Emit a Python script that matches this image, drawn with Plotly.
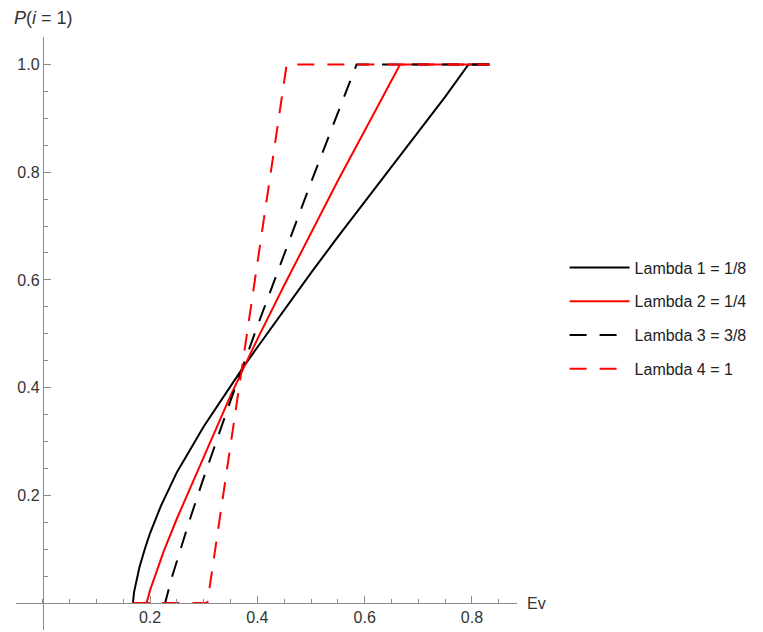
import plotly.graph_objects as go

# Ev values and P(i = 1) for each Lambda setting (values clipped to [0, 1])
ev_l1 = [0.167, 0.168, 0.170, 0.175, 0.18, 0.19, 0.20, 0.22, 0.25, 0.30, 0.35, 0.375, 0.40, 0.45,
         0.50, 0.55, 0.60, 0.65, 0.70, 0.75, 0.7935, 0.833]
p_l1 = [0.0, 0.0, 0.020, 0.045, 0.066, 0.100, 0.130, 0.180, 0.243, 0.328, 0.404, 0.440, 0.475, 0.545,
        0.613, 0.680, 0.746, 0.810, 0.875, 0.940, 1.0, 1.0]

ev_l2 = [0.167, 0.1934, 0.20, 0.21, 0.225, 0.25, 0.30, 0.35, 0.375, 0.40, 0.45, 0.50, 0.55, 0.60, 0.666, 0.833]
p_l2 = [0.0, 0.0, 0.024, 0.054, 0.095, 0.157, 0.272, 0.385, 0.438, 0.490, 0.590, 0.688, 0.784, 0.877, 1.0, 1.0]

ev_l3 = [0.167, 0.228, 0.24, 0.25, 0.275, 0.30, 0.35, 0.40, 0.45, 0.50, 0.55, 0.585, 0.833]
p_l3 = [0.0, 0.0, 0.046, 0.079, 0.158, 0.233, 0.376, 0.514, 0.649, 0.781, 0.910, 1.0, 1.0]

ev_l4 = [0.167, 0.3066, 0.4546, 0.833]
p_l4 = [0.0, 0.0, 1.0, 1.0]

names = ["Lambda 1 = 1/8", "Lambda 2 = 1/4", "Lambda 3 = 3/8", "Lambda 4 = 1"]

x_ticks = [0.2, 0.4, 0.6, 0.8]
x_tick_text = ["0.2", "0.4", "0.6", "0.8"]
y_ticks = [0.2, 0.4, 0.6, 0.8, 1.0]
y_tick_text = ["0.2", "0.4", "0.6", "0.8", "1.0"]

x_range = [-0.05, 0.884]
y_range = [-0.05, 1.051]

FONT = "Liberation Sans, Arial, sans-serif"
AXIS = "#8a8a8a"
DASH = "17px,13px"

fig = go.Figure()
series = [
    (ev_l1, p_l1, "black", "solid"),
    (ev_l2, p_l2, "#ff0000", "solid"),
    (ev_l3, p_l3, "black", DASH),
    (ev_l4, p_l4, "#ff0000", DASH),
]
for i, ((xs, ys, color, dash), name) in enumerate(zip(series, names)):
    fig.add_trace(go.Scatter(
        x=xs, y=ys, mode="lines", name=name, legendgroup=f"g{i}",
        line=dict(color=color, width=2, dash=dash),
        cliponaxis=False,
    ))

# axes cross at the origin, as free-positioned axes
x_pos = (0 - y_range[0]) / (y_range[1] - y_range[0])
y_pos = (0 - x_range[0]) / (x_range[1] - x_range[0])

fig.update_layout(
    width=763, height=632,
    margin=dict(l=16, r=246, t=37, b=2),
    paper_bgcolor="white", plot_bgcolor="white",
    font=dict(family=FONT, size=16, color="#333333"),
    showlegend=True,
    legend=dict(
        x=1.095, y=0.64, xanchor="left", yanchor="top",
        font=dict(family=FONT, size=16, color="#222222"),
        tracegroupgap=10, traceorder="grouped",
        itemwidth=60,
        bgcolor="rgba(0,0,0,0)",
    ),
    xaxis=dict(
        range=x_range, anchor="free", position=x_pos,
        showgrid=False, zeroline=False,
        showline=True, linecolor=AXIS, linewidth=1,
        tickmode="array", tickvals=x_ticks, ticktext=x_tick_text,
        ticks="inside", ticklen=7, tickcolor=AXIS, tickwidth=1,
        minor=dict(dtick=0.05, tick0=0, ticks="inside", ticklen=4, tickcolor=AXIS, tickwidth=1),
        tickfont=dict(family=FONT, size=16, color="#333333"),
    ),
    yaxis=dict(
        range=y_range, anchor="free", position=y_pos,
        showgrid=False, zeroline=False,
        showline=True, linecolor=AXIS, linewidth=1,
        tickmode="array", tickvals=y_ticks, ticktext=y_tick_text,
        ticks="inside", ticklen=7, tickcolor=AXIS, tickwidth=1,
        minor=dict(dtick=0.05, tick0=0, ticks="inside", ticklen=4, tickcolor=AXIS, tickwidth=1),
        tickfont=dict(family=FONT, size=16, color="#333333"),
    ),
    annotations=[
        dict(text="<i>P</i>(<i>i</i> = 1)", xref="paper", yref="paper",
             x=-0.008, y=1.0, xanchor="left", yanchor="bottom", yshift=7,
             showarrow=False, font=dict(family=FONT, size=18, color="#333333")),
        dict(text="Ev", xref="paper", yref="y",
             x=1.0, y=0, xanchor="left", yanchor="middle", xshift=8,
             showarrow=False, font=dict(family=FONT, size=16, color="#333333")),
    ],
)

fig.write_html("out.html")
